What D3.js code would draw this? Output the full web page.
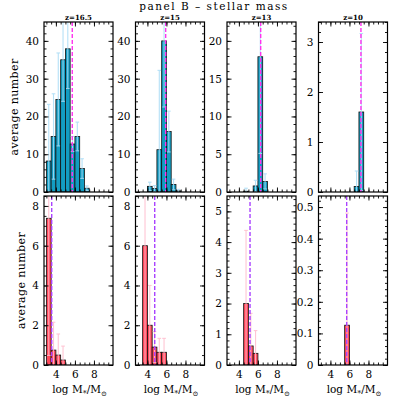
<!DOCTYPE html>
<html lang="en">
<head>
<meta charset="utf-8">
<title>panel B - stellar mass</title>
<script src="https://cdn.jsdelivr.net/npm/d3@7"></script>
<style>
  body { margin: 0; background: #fff; }
  svg text { font-family: "DejaVu Serif", serif; fill: #000; }
  .axis path { display: none; }
  .axis line { stroke: #000; stroke-width: 0.9; }
  .axis text { font-size: 10.5px; }
  .frame { fill: none; stroke: #000; stroke-width: 1.2; }
</style>
</head>
<body>
<script>
// ---- data ----
var redshifts = ["z=16.5", "z=15", "z=13", "z=10"];
var binWidth = 0.5;

// top row (blue): lower bin edges, average number, error
var topLo = [
  [3, 3.5, 4, 4.5, 5, 5.5, 6, 6.5, 7],
  [4, 4.5, 5, 5.5, 6, 6.5, 7],
  [4.5, 5.5, 6, 6.5],
  [6.5, 7]
];
var topVal = [
  [8.2, 14.7, 24.5, 35.0, 37.9, 12.7, 14.7, 6.2, 1.0],
  [1.5, 0.9, 11.2, 40.0, 16.0, 2.0, 0.3],
  [0.1, 0.8, 17.9, 1.4],
  [0.11, 1.6]
];
var topErr = [
  [15.0, 11.3, 12.3, 11.0, 10.5, 2.0, 3.8, 2.6, 0.6],
  [1.1, 0.8, 21.0, 17.5, 5.4, 1.4, 0.4],
  [0.4, 0.75, 12.8, 1.0],
  [0.31, 1.57]
];
var topMedian = [5.72, 5.92, 6.29, 7.21];
var topYMax = [45, 45, 22.5, 3.4];
var topMajor = [10, 10, 5, 1];
var topMinor = [2, 2, 1, 0.2];

// bottom row (red)
var botLo = [
  [3, 3.5, 4, 4.5],
  [3.5, 4, 4.5, 5, 5.5],
  [4.5, 5, 5.5],
  [5.5]
];
var botVal = [
  [7.38, 0.75, 0.5, 0.25],
  [6.0, 2.0, 0.9, 0.64, 0.64],
  [2.0, 0.62, 0.38],
  [0.126]
];
var botErr = [
  [6.9, 1.4, 1.06, 0.7],
  [6.0, 2.0, 0.78, 0.7, 0.7],
  [2.38, 1.06, 0.74],
  [0.355]
];
var botMedian = [3.56, 4.77, 5.17, 5.71];
var botYMax = [8.5, 8.5, 5.5, 0.535];
var botMajor = [2, 2, 1, 0.1];
var botMinor = [0.5, 0.5, 0.2, 0.02];

var xDomain = [2.75, 10];
var xMajor = [4, 6, 8];
var xMinorStep = 0.5;

// ---- layout ----
var width = 409, height = 409;
var panelX = [44, 135.5, 227, 318.5], panelW = 69;
var rows = [{y0: 22, y1: 192}, {y0: 196, y1: 365}];

var svg = d3.select("body").append("svg")
    .attr("width", width)
    .attr("height", height);

var defs = svg.append("defs");

function steps(lo, hi, step) {
  var n = Math.floor((hi - lo) / step + 1e-6);
  return d3.range(n + 1).map(function(i) { return +(lo + i * step).toFixed(6); });
}

function drawPanel(r, c, lo, vals, errs, median, yMax, major, minor, colors) {
  var row = rows[r];
  var x = d3.scaleLinear().domain(xDomain).range([panelX[c], panelX[c] + panelW]);
  var y = d3.scaleLinear().domain([0, yMax]).range([row.y1, row.y0]);
  var g = svg.append("g");

  var clipId = "clip" + r + c;
  defs.append("clipPath").attr("id", clipId)
    .append("rect")
      .attr("x", panelX[c]).attr("y", row.y0)
      .attr("width", panelW).attr("height", row.y1 - row.y0);

  var plot = g.append("g").attr("clip-path", "url(#" + clipId + ")");

  var data = lo.map(function(d, i) { return {lo: d, v: vals[i], e: errs[i]}; });

  plot.selectAll("rect.bar")
    .data(data)
    .enter().append("rect")
      .attr("class", "bar")
      .attr("x", function(d) { return x(d.lo); })
      .attr("width", function(d) { return x(d.lo + binWidth) - x(d.lo); })
      .attr("y", function(d) { return y(d.v); })
      .attr("height", function(d) { return y(0) - y(d.v); })
      .attr("fill", colors.bar)
      .attr("stroke", "#111")
      .attr("stroke-width", 0.8);

  var eb = plot.selectAll("g.err")
    .data(data)
    .enter().append("g")
      .attr("class", "err")
      .attr("stroke", colors.err)
      .attr("stroke-width", 1.1)
      .attr("opacity", 0.85);

  eb.append("line")
    .attr("x1", function(d) { return x(d.lo + binWidth / 2); })
    .attr("x2", function(d) { return x(d.lo + binWidth / 2); })
    .attr("y1", function(d) { return y(Math.max(d.v - d.e, 0)); })
    .attr("y2", function(d) { return y(d.v + d.e); });
  eb.append("line")
    .attr("x1", function(d) { return x(d.lo + binWidth / 2) - 1.8; })
    .attr("x2", function(d) { return x(d.lo + binWidth / 2) + 1.8; })
    .attr("y1", function(d) { return y(d.v + d.e); })
    .attr("y2", function(d) { return y(d.v + d.e); });
  eb.filter(function(d) { return d.v - d.e > 0; })
    .append("line")
    .attr("x1", function(d) { return x(d.lo + binWidth / 2) - 1.8; })
    .attr("x2", function(d) { return x(d.lo + binWidth / 2) + 1.8; })
    .attr("y1", function(d) { return y(d.v - d.e); })
    .attr("y2", function(d) { return y(d.v - d.e); });

  plot.append("line")
    .attr("x1", x(median)).attr("x2", x(median))
    .attr("y1", row.y0).attr("y2", row.y1)
    .attr("stroke", colors.median)
    .attr("stroke-width", 1.4)
    .attr("stroke-dasharray", "4,2");

  // axes, ticks pointing inward
  var yMaj = steps(0, yMax, major), yMin = steps(0, yMax, minor);
  var fmt = major < 1 ? function(d) { return d === 0 ? "0" : d3.format(".1f")(d); } : d3.format("d");

  g.append("g").attr("class", "axis")
    .attr("transform", "translate(" + panelX[c] + ",0)")
    .call(d3.axisLeft(y).tickValues(yMaj).tickSize(-4.5).tickSizeOuter(0).tickPadding(5).tickFormat(fmt));
  g.append("g").attr("class", "axis")
    .attr("transform", "translate(" + panelX[c] + ",0)")
    .call(d3.axisLeft(y).tickValues(yMin).tickSize(-2.5).tickSizeOuter(0).tickFormat(""));
  g.append("g").attr("class", "axis")
    .attr("transform", "translate(" + (panelX[c] + panelW) + ",0)")
    .call(d3.axisRight(y).tickValues(yMaj).tickSize(-4.5).tickSizeOuter(0).tickFormat(""));
  g.append("g").attr("class", "axis")
    .attr("transform", "translate(" + (panelX[c] + panelW) + ",0)")
    .call(d3.axisRight(y).tickValues(yMin).tickSize(-2.5).tickSizeOuter(0).tickFormat(""));

  var xMin = steps(3, 9.5, xMinorStep);
  g.append("g").attr("class", "axis")
    .attr("transform", "translate(0," + row.y0 + ")")
    .call(d3.axisTop(x).tickValues(xMajor).tickSize(-4.5).tickSizeOuter(0).tickFormat(""));
  g.append("g").attr("class", "axis")
    .attr("transform", "translate(0," + row.y0 + ")")
    .call(d3.axisTop(x).tickValues(xMin).tickSize(-2.5).tickSizeOuter(0).tickFormat(""));
  g.append("g").attr("class", "axis")
    .attr("transform", "translate(0," + row.y1 + ")")
    .call(d3.axisBottom(x).tickValues(xMajor).tickSize(-4.5).tickSizeOuter(0).tickPadding(6)
      .tickFormat(r === 1 ? d3.format("d") : ""));
  g.append("g").attr("class", "axis")
    .attr("transform", "translate(0," + row.y1 + ")")
    .call(d3.axisBottom(x).tickValues(xMin).tickSize(-2.5).tickSizeOuter(0).tickFormat(""));

  g.append("rect").attr("class", "frame")
    .attr("x", panelX[c]).attr("y", row.y0)
    .attr("width", panelW).attr("height", row.y1 - row.y0);

  if (r === 1) {
    var t = g.append("text")
      .attr("x", panelX[c] + panelW / 2 + 1)
      .attr("y", 393)
      .attr("text-anchor", "middle")
      .style("font-size", "10.5px");
    t.append("tspan").text("log M");
    t.append("tspan").attr("dy", 2.5).style("font-size", "8px").text("*");
    t.append("tspan").attr("dy", -2.5).text("/M");
    t.append("tspan").attr("dy", 2.5).style("font-size", "7px").text("\u2299");
  }
}

var blue = {bar: "#139dc2", err: "#a9dcf6", median: "#ff33ee"};
var red = {bar: "#ff4a5c", err: "#ffbccd", median: "#aa44ff"};

for (var c = 0; c < 4; c++) {
  drawPanel(0, c, topLo[c], topVal[c], topErr[c], topMedian[c], topYMax[c], topMajor[c], topMinor[c], blue);
  drawPanel(1, c, botLo[c], botVal[c], botErr[c], botMedian[c], botYMax[c], botMajor[c], botMinor[c], red);

  svg.append("text")
    .attr("x", panelX[c] + panelW / 2)
    .attr("y", 20)
    .attr("text-anchor", "middle")
    .style("font-size", "7px")
    .style("font-weight", "bold")
    .text(redshifts[c]);
}

svg.append("text")
  .attr("x", 214).attr("y", 9.5)
  .attr("text-anchor", "middle")
  .style("font-size", "10.5px")
  .style("letter-spacing", "1.5px")
  .text("panel B \u2013 stellar mass");

[{x: 18, y: (rows[0].y0 + rows[0].y1) / 2}, {x: 25, y: (rows[1].y0 + rows[1].y1) / 2}].forEach(function(p) {
  svg.append("text")
    .attr("transform", "translate(" + p.x + "," + p.y + ") rotate(-90)")
    .attr("text-anchor", "middle")
    .style("font-size", "11px")
    .style("letter-spacing", "0.4px")
    .text("average number");
});
</script>
</body>
</html>
